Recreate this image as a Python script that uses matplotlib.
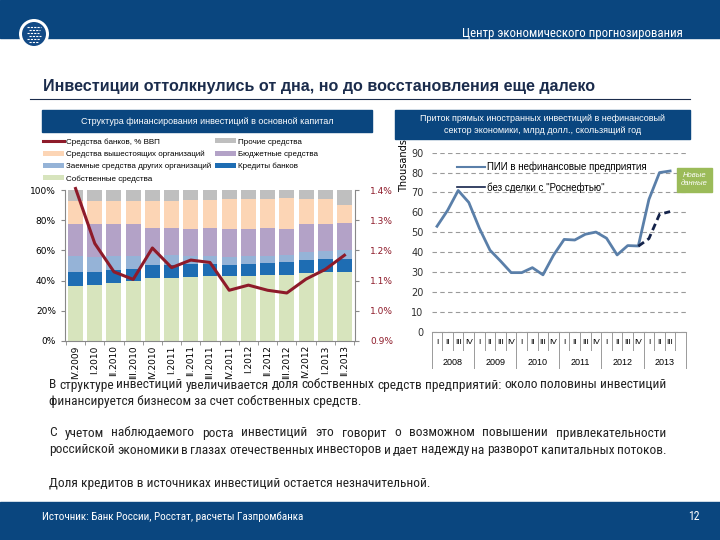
import numpy as np
import matplotlib.pyplot as plt
from matplotlib.patches import Rectangle, Ellipse
from matplotlib.lines import Line2D

# ---- data: financing structure, % of total ----
periods = ['IV.2009', 'I.2010', 'II.2010', 'III.2010', 'IV.2010', 'I.2011', 'II.2011',
           'III.2011', 'IV.2011', 'I.2012', 'II.2012', 'III.2012', 'IV.2012', 'I.2013', 'II.2013']
own_funds = [36.3, 36.9, 38.5, 39.8, 41.8, 41.8, 42.5, 42.9, 42.9, 42.9, 44.0, 44.0, 45.1, 45.4, 45.8]
bank_loans = [9.5, 8.9, 8.4, 8.2, 8.4, 8.4, 8.2, 8.4, 7.3, 8.4, 7.8, 8.4, 8.4, 8.6, 8.4]
other_borrowed = [10.4, 10.0, 9.1, 8.6, 7.1, 6.7, 5.5, 4.9, 5.6, 4.9, 4.8, 4.5, 5.5, 5.5, 6.0]
budget = [21.2, 21.6, 21.4, 20.8, 17.3, 17.7, 17.7, 18.4, 18.1, 17.7, 18.0, 17.0, 18.2, 17.7, 18.1]
parent_orgs = [15.5, 15.3, 15.3, 15.3, 18.1, 18.1, 19.5, 18.8, 20.1, 20.1, 19.4, 20.6, 16.8, 16.8, 11.7]
other_funds = [7.1, 7.3, 7.3, 7.3, 7.3, 7.3, 6.6, 6.6, 6.0, 6.0, 6.0, 5.5, 6.0, 6.0, 10.0]
bank_gdp = [1.405, 1.223, 1.129, 1.104, 1.208, 1.143, 1.168, 1.160, 1.068, 1.085, 1.068, 1.059,
            1.105, 1.137, 1.184]

# ---- data: FDI inflow, bln USD, rolling year ----
quarters = ['I', 'II', 'III', 'IV'] * 5 + ['I', 'II', 'III', '']
years = ['2008', '2009', '2010', '2011', '2012', '2013']
fdi = [53, 61, 71, 65, 52, 41, 35.5, 29.7, 29.7, 32.2, 28.6, 38.5, 46.4, 46.1, 49.0, 50.1,
       47.0, 38.6, 43.3, 43.1, 66.5, 80.0, 80.8]
fdi_no_rosneft = [np.nan] * 19 + [43.0, 46.8, 59.0, 60.4]

navy = '#0a467f'
narrow = ['Liberation Sans Narrow', 'Roboto Condensed', 'DejaVu Sans Condensed', 'Liberation Sans']
fig = plt.figure(figsize=(7.2, 5.4), dpi=100)
W, H = 720.0, 540.0
def fx(p): return p / W
def fy(p): return 1 - p / H

# header band, logo
fig.patches.append(Rectangle((0, fy(38)), 1, 38 / H, transform=fig.transFigure, color=navy))
fig.patches.append(Ellipse((fx(34), fy(34)), 30 / W, 30 / H, transform=fig.transFigure,
                           facecolor='white', edgecolor='none'))
fig.patches.append(Ellipse((fx(34), fy(34)), 24 / W, 24 / H, transform=fig.transFigure,
                           facecolor='#124a86', edgecolor='none'))
for k, dy in enumerate([-7, -4, -1, 2, 5, 8]):
    fig.add_artist(Line2D([fx(27 + k % 2 * 2), fx(41 - k % 3)], [fy(34 + dy), fy(34 + dy)],
                          color='white', lw=0.8, ls=(0, (2, 1))))
fig.text(fx(683), fy(33), 'Центр экономического прогнозирования', color='white',
         fontsize=9.3, ha='right', va='center', family=narrow)
fig.text(fx(43), fy(87), 'Инвестиции оттолкнулись от дна, но до восстановления еще далеко',
         fontsize=11.6, fontweight='bold', color='#1b2c4c', va='center', family='Liberation Sans')
fig.add_artist(Line2D([fx(30), fx(690)], [fy(99), fy(99)], color='#1b2c4c', lw=0.8))

# chart headers
fig.patches.append(Rectangle((fx(42), fy(132)), 330 / W, 22 / H, transform=fig.transFigure, color=navy))
fig.text(fx(207), fy(121), 'Структура финансирования инвестиций в основной капитал',
         color='white', fontsize=6.5, ha='center', va='center', family='Liberation Sans')
fig.patches.append(Rectangle((fx(395), fy(139)), 295 / W, 29 / H, transform=fig.transFigure, color=navy))
fig.text(fx(543), fy(124.5), 'Приток прямых иностранных инвестиций в нефинансовый\nсектор экономики, млрд долл., скользящий год',
         color='white', fontsize=6.5, ha='center', va='center', linespacing=1.3, family='Liberation Sans')

# ---- left chart ----
ax = fig.add_axes([fx(65), fy(341), 290 / W, 151 / H])
x = np.arange(len(periods))
series = [(own_funds, '#d7e4bd', 'Собственные средства'),
          (bank_loans, '#1e6db3', 'Кредиты банков'),
          (other_borrowed, '#95b3d7', 'Заемные средства других организаций'),
          (budget, '#b3a2c7', 'Бюджетные средства'),
          (parent_orgs, '#fcd5b5', 'Средства вышестоящих организаций'),
          (other_funds, '#bfbfbf', 'Прочие средства')]
bottom = np.zeros(len(periods))
handles = {}
for vals, col, lab in series:
    handles[lab] = ax.bar(x, vals, 0.78, bottom=bottom, color=col, label=lab)
    bottom += np.array(vals)
ax.set_xlim(-0.55, len(periods) - 0.45)
ax.set_ylim(0, 100)
ax.set_yticks(range(0, 101, 20))
ax.set_yticklabels([f'{v}%' for v in range(0, 101, 20)])
ax.set_xticks(x)
ax.set_xticklabels(periods, rotation=90, va='top')
ax.set_xticks(np.arange(-0.5, len(periods)), minor=True)
ax.tick_params(axis='x', which='major', length=0, labelsize=6.5, pad=3)
ax.tick_params(axis='x', which='minor', length=3, color='#888888')
ax.tick_params(axis='y', labelsize=6.5, length=3, color='#888888')
for s in ['left', 'bottom']:
    ax.spines[s].set_color('#888888')
ax.spines['top'].set_visible(False)
ax.spines['right'].set_visible(False)

ax2 = ax.twinx()
ln, = ax2.plot(x, bank_gdp, color='#8e1b2a', lw=2.2, clip_on=False, label='Средства банков, % ВВП')
ax2.set_ylim(0.9, 1.4)
ax2.set_yticks(np.arange(0.9, 1.41, 0.1))
ax2.set_yticklabels([f'{v:.1f}%' for v in np.arange(0.9, 1.41, 0.1)])
ax2.tick_params(axis='y', labelsize=6.5, length=3, colors='#8e1b2a', pad=8)
ax2.tick_params(axis='y', color='#888888')
ax2.spines['right'].set_color('#888888')
ax2.spines['top'].set_visible(False)
ax2.spines['left'].set_visible(False)
ax2.spines['bottom'].set_visible(False)

order = ['Средства вышестоящих организаций', 'Заемные средства других организаций',
         'Собственные средства', 'Прочие средства', 'Бюджетные средства', 'Кредиты банков']
leg_h = [ln] + [handles[o] for o in order]
leg_l = ['Средства банков, % ВВП'] + order
fig.legend(leg_h, leg_l, loc='upper left', bbox_to_anchor=(fx(36), fy(131)), ncol=2,
           frameon=False, handlelength=2.6, handleheight=0.6, handletextpad=0.2,
           columnspacing=0.5, labelspacing=0.6, prop={'family': 'Liberation Sans', 'size': 5.8})

# ---- right chart ----
bx = fig.add_axes([fx(431.7), fy(331.7), 254.3 / W, 179 / H])
q = np.arange(len(fdi))
bx.plot(q, fdi, color='#5a7fa9', lw=2.0)
bx.plot(np.arange(len(fdi_no_rosneft)), fdi_no_rosneft, color='#14234a', lw=2.0, ls=(0, (2.5, 1.5)))
bx.set_xlim(-0.5, len(quarters) - 0.5)
bx.set_ylim(0, 90)
bx.set_yticks(range(0, 91, 10))
bx.yaxis.grid(True, color='#9a9a9a', lw=0.8, ls=(0, (4, 3)))
bx.set_axisbelow(True)
bx.tick_params(axis='y', length=0, labelsize=7, labelcolor='#303030', pad=6)
bx.set_xticks([])
for s in ['left', 'top', 'right']:
    bx.spines[s].set_visible(False)
bx.spines['bottom'].set_color('#9a9a9a')
bx.set_ylabel('Thousands', fontsize=7, labelpad=0)
bx.yaxis.set_label_coords(-0.09, 0.93)
tr = bx.get_xaxis_transform()
for i, lab in enumerate(quarters):
    bx.text(i, -0.063, lab, transform=tr, ha='center', va='center', fontsize=6, family='Liberation Sans')
for i in range(len(quarters) + 1):
    low = -0.205 if i % 4 == 0 else -0.1
    bx.plot([i - 0.5, i - 0.5], [0, low], transform=tr, color='#9a9a9a', lw=0.7, clip_on=False)
for j, yr in enumerate(years):
    bx.text(j * 4 + 1.5, -0.172, yr, transform=tr, ha='center', va='center', fontsize=6.5,
            family='Liberation Sans')
leg2 = [Line2D([], [], color='#5a7fa9', lw=1.5), Line2D([], [], color='#14234a', lw=1.2)]
bx.legend(leg2, ['ПИИ в нефинансовые предприятия', 'без сделки с "Роснефтью"'], loc='upper left',
          bbox_to_anchor=(0.065, 1.0), frameon=False, handlelength=2.9, handletextpad=0.15,
          labelspacing=1.05, prop={'family': 'Liberation Sans', 'size': 7})

fig.patches.append(Rectangle((fx(677), fy(192)), 35 / W, 24 / H, transform=fig.transFigure,
                             color='#9bbb59'))
fig.text(fx(694.5), fy(180), 'Новые\nданные', color='white', fontsize=5.5, style='italic',
         ha='center', va='center', linespacing=1.2, family='Liberation Sans')

# ---- body text ----
renderer = fig.canvas.get_renderer()
def text_width(s, size):
    t = fig.text(0, 0, s, fontsize=size, family=narrow)
    w = t.get_window_extent(renderer).width
    t.remove()
    return w

# size so the short line spans about as wide as in the slide
body_size = min(11.0, 10.0 * 313 / text_width('финансируется бизнесом за счет собственных средств.', 10.0))
body_font = dict(fontsize=body_size, color='#222222', va='baseline', family=narrow)

def put_line(y, text, justify=False, x0=49, width=617):
    yb = fy(y + 4.5)
    if not justify:
        fig.text(fx(x0), yb, text, **body_font)
        return
    words = text.split()
    widths = [text_width(w, body_size) for w in words]
    gap = (width - sum(widths)) / (len(words) - 1)
    xp = x0
    for w, wd in zip(words, widths):
        fig.text(fx(xp), yb, w, **body_font)
        xp += wd + gap

put_line(384, 'В структуре инвестиций увеличивается доля собственных средств предприятий: около половины инвестиций', True)
put_line(401, 'финансируется бизнесом за счет собственных средств.')
put_line(432, 'С учетом наблюдаемого роста инвестиций это говорит о возможном повышении привлекательности', True)
put_line(449, 'российской экономики в глазах отечественных инвесторов и дает надежду на разворот капитальных потоков.', True)
put_line(482, 'Доля кредитов в источниках инвестиций остается незначительной.')

# footer
fig.patches.append(Rectangle((0, 0), 1, 38.5 / H, transform=fig.transFigure, color=navy))
fig.text(fx(42), fy(517), 'Источник: Банк России, Росстат, расчеты Газпромбанка', color='white',
         fontsize=8.0, va='center', family=narrow)
fig.text(fx(700), fy(516), '12', color='white', fontsize=8.5, ha='right', va='center', family=narrow)

fig.savefig('out.png', dpi=100)
